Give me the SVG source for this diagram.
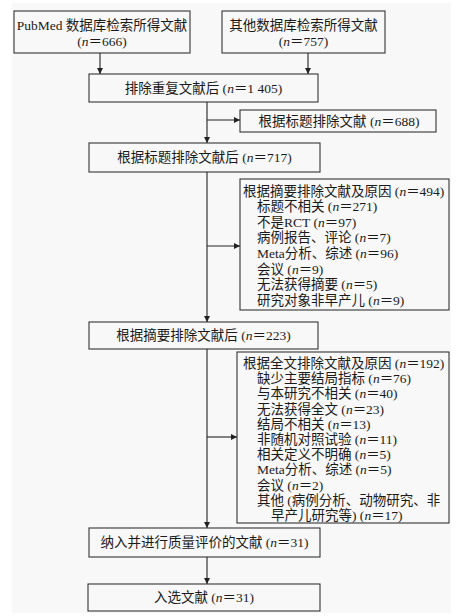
<svg xmlns="http://www.w3.org/2000/svg" width="465" height="616" viewBox="0 0 465 616">
<defs>
<marker id="ah" viewBox="0 0 10 10" refX="10" refY="5" markerWidth="7" markerHeight="6" markerUnits="userSpaceOnUse" orient="auto">
<path d="M0,0 L10,5 L0,10 z" fill="#222"/>
</marker>
<style>
.box{fill:none;stroke:#333;stroke-width:1.1}
.t{font-family:"Liberation Serif","Noto Sans CJK SC",serif;font-size:13.5px;fill:#1a1a1a}
.c{text-anchor:middle}
.i{font-style:italic}
.ln{fill:none;stroke:#222;stroke-width:1.1}
</style>
</defs>
<rect x="0" y="0" width="465" height="616" fill="#ffffff"/>
<rect x="12" y="3" width="439" height="610" fill="#f8f8f8"/>
<g id="connectors">
<line class="ln" x1="100" y1="53" x2="100" y2="74" marker-end="url(#ah)"/>
<line class="ln" x1="308" y1="53" x2="308" y2="74" marker-end="url(#ah)"/>
<line class="ln" x1="207" y1="102" x2="207" y2="143" marker-end="url(#ah)"/>
<line class="ln" x1="207" y1="120" x2="240" y2="120" marker-end="url(#ah)"/>
<line class="ln" x1="207" y1="172" x2="207" y2="322" marker-end="url(#ah)"/>
<line class="ln" x1="207" y1="246" x2="240" y2="246" marker-end="url(#ah)"/>
<line class="ln" x1="207" y1="349" x2="207" y2="528" marker-end="url(#ah)"/>
<line class="ln" x1="207" y1="437" x2="237" y2="437" marker-end="url(#ah)"/>
<line class="ln" x1="207" y1="557" x2="207" y2="584" marker-end="url(#ah)"/>
</g>
<g id="n1">
<rect class="box" x="14" y="11" width="176" height="42"/>
<text class="t c" x="102" y="29.5">PubMed 数据库检索所得文献</text>
<text class="t c" x="102" y="46">(<tspan class="i">n</tspan>＝666)</text>
</g>
<g id="n2">
<rect class="box" x="222" y="11" width="163" height="42"/>
<text class="t c" x="303.5" y="29.5">其他数据库检索所得文献</text>
<text class="t c" x="303.5" y="46">(<tspan class="i">n</tspan>＝757)</text>
</g>
<g id="n3">
<rect class="box" x="89" y="74" width="229" height="28"/>
<text class="t c" x="203.5" y="92.5">排除重复文献后 (<tspan class="i">n</tspan>＝1 405)</text>
</g>
<g id="n4">
<rect class="box" x="240" y="110" width="196" height="22"/>
<text class="t c" x="339" y="125.5">根据标题排除文献 (<tspan class="i">n</tspan>＝688)</text>
</g>
<g id="n5">
<rect class="box" x="89" y="143" width="231" height="29"/>
<text class="t c" x="204.5" y="162">根据标题排除文献后 (<tspan class="i">n</tspan>＝717)</text>
</g>
<g id="n6">
<rect class="box" x="240" y="179" width="209" height="131"/>
<text class="t" x="243" y="195.5">根据摘要排除文献及原因 (<tspan class="i">n</tspan>＝494)</text>
<text class="t" x="257" y="211.1">标题不相关 (<tspan class="i">n</tspan>＝271)</text>
<text class="t" x="257" y="226.7">不是RCT (<tspan class="i">n</tspan>＝97)</text>
<text class="t" x="257" y="242.3">病例报告、评论 (<tspan class="i">n</tspan>＝7)</text>
<text class="t" x="257" y="257.9">Meta分析、综述 (<tspan class="i">n</tspan>＝96)</text>
<text class="t" x="257" y="273.5">会议 (<tspan class="i">n</tspan>＝9)</text>
<text class="t" x="257" y="289.1">无法获得摘要 (<tspan class="i">n</tspan>＝5)</text>
<text class="t" x="257" y="304.7">研究对象非早产儿 (<tspan class="i">n</tspan>＝9)</text>
</g>
<g id="n7">
<rect class="box" x="89" y="322" width="229" height="27"/>
<text class="t c" x="203.5" y="340">根据摘要排除文献后 (<tspan class="i">n</tspan>＝223)</text>
</g>
<g id="n8">
<rect class="box" x="237" y="352" width="212" height="171"/>
<text class="t" x="243" y="368">根据全文排除文献及原因 (<tspan class="i">n</tspan>＝192)</text>
<text class="t" x="257" y="383.2">缺少主要结局指标 (<tspan class="i">n</tspan>＝76)</text>
<text class="t" x="257" y="398.4">与本研究不相关 (<tspan class="i">n</tspan>＝40)</text>
<text class="t" x="257" y="413.6">无法获得全文 (<tspan class="i">n</tspan>＝23)</text>
<text class="t" x="257" y="428.8">结局不相关 (<tspan class="i">n</tspan>＝13)</text>
<text class="t" x="257" y="444">非随机对照试验 (<tspan class="i">n</tspan>＝11)</text>
<text class="t" x="257" y="459.2">相关定义不明确 (<tspan class="i">n</tspan>＝5)</text>
<text class="t" x="257" y="474.4">Meta分析、综述 (<tspan class="i">n</tspan>＝5)</text>
<text class="t" x="257" y="489.6">会议 (<tspan class="i">n</tspan>＝2)</text>
<text class="t" x="257" y="504.8">其他 (病例分析、动物研究、非</text>
<text class="t" x="271" y="520">早产儿研究等) (<tspan class="i">n</tspan>＝17)</text>
</g>
<g id="n9">
<rect class="box" x="89" y="528" width="231" height="29"/>
<text class="t c" x="204.5" y="547">纳入并进行质量评价的文献 (<tspan class="i">n</tspan>＝31)</text>
</g>
<g id="n10">
<rect class="box" x="88" y="584" width="232" height="27"/>
<text class="t c" x="204" y="602">入选文献 (<tspan class="i">n</tspan>＝31)</text>
</g>
</svg>
